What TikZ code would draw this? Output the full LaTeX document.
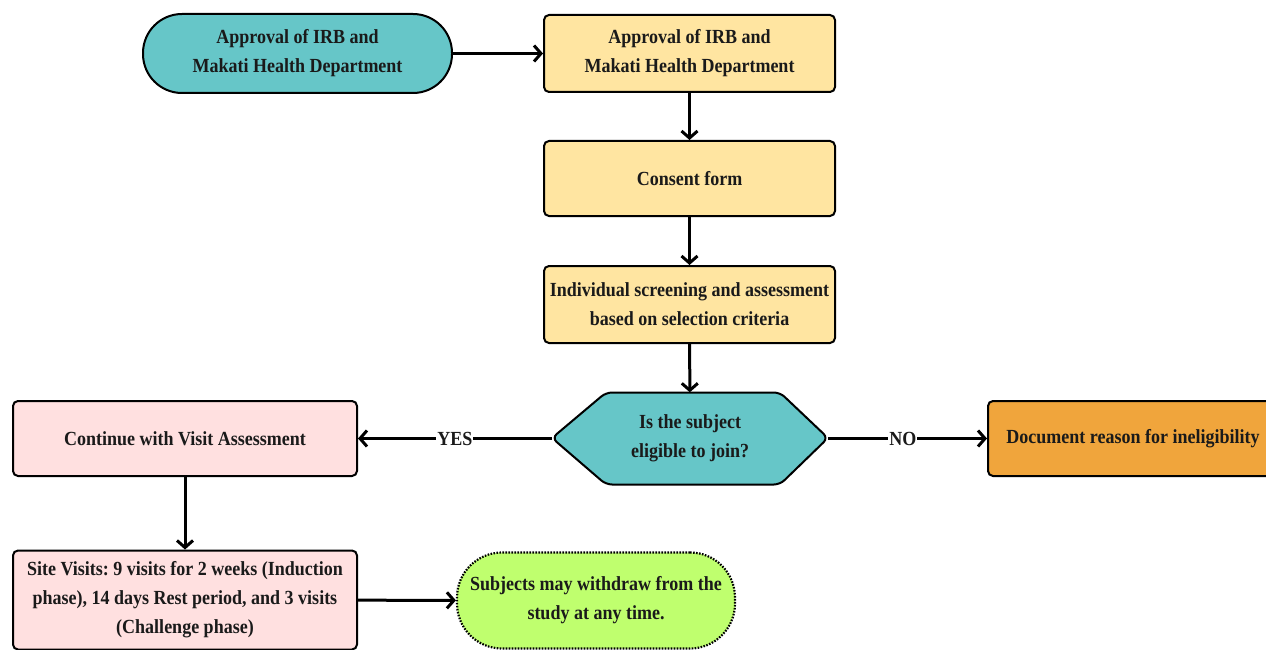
\documentclass[tikz,border=0pt]{standalone}
\usepackage{fontspec}
\setmainfont[FakeStretch=0.9]{Liberation Serif}
\usetikzlibrary{arrows.meta}
\definecolor{tealc}{HTML}{66C6C8}
\definecolor{yelc}{HTML}{FFE5A1}
\definecolor{pinkc}{HTML}{FFE0E0}
\definecolor{orac}{HTML}{F0A53C}
\definecolor{grnc}{HTML}{BFFF6E}
\definecolor{txtc}{HTML}{1A1A1A}
\frenchspacing
\begin{document}
\begin{tikzpicture}[x=1pt,y=-1pt,
  txt/.style={font=\bfseries\fontsize{20}{29}\selectfont, text=txtc, align=center},
  box/.style={txt, draw=black, line width=2pt, rounded corners=5pt, inner sep=0pt},
  stad/.style={txt, draw=black, line width=2pt, inner sep=0pt},
  arr/.style={line width=3pt, -{Straight Barb[length=7pt,width=16pt,line width=3pt]}},
  lab/.style={txt, fill=white, inner sep=1pt}]
\useasboundingbox (0,0) rectangle (1266,650);
% nodes
\node[stad, fill=tealc, rounded corners=39pt, minimum width=309pt, minimum height=79pt] (irb) at (297.5,53.5) {Approval of IRB and\\Makati Health Department};
\node[box, fill=yelc, minimum width=291pt, minimum height=77pt] (app) at (689.5,53.5) {Approval of IRB and\\Makati Health Department};
\node[box, fill=yelc, minimum width=291pt, minimum height=75pt] (cons) at (689.5,178.5) {Consent form};
\node[box, fill=yelc, minimum width=291pt, minimum height=77pt] (scr) at (689.5,304.5) {Individual screening and assessment\\based on selection criteria};
\draw[line width=2pt, fill=tealc, rounded corners=6pt] (552,438) -- (606,392.5) -- (780,392.5) -- (828,438) -- (780,484.5) -- (606,484.5) -- cycle;
\node[txt, minimum width=276pt, minimum height=92pt, inner sep=0pt] (dec) at (690,438.5) {Is the subject\\eligible to join?};
\node[box, fill=pinkc, minimum width=344pt, minimum height=75pt] (cont) at (185,438.5) {Continue with Visit Assessment};
\node[box, fill=pinkc, minimum width=344pt, minimum height=99pt] (site) at (185,600) {Site Visits: 9 visits for 2 weeks (Induction\\phase), 14 days Rest period, and 3 visits\\(Challenge phase)};
\node[stad, fill=grnc, dash pattern=on 1.6pt off 1.4pt, line width=2.2pt, rounded corners=45pt, minimum width=278pt, minimum height=96pt] (wd) at (596,600.5) {Subjects may withdraw from the\\study at any time.};
\node[box, fill=orac, minimum width=290pt, minimum height=75pt, anchor=west] (doc) at (987,438.5) {Document reason for ineligibility};
% connectors
\draw[arr] (irb) -- (app);
\draw[arr] (app) -- (cons);
\draw[arr] (cons) -- (scr);
\draw[arr] (scr) -- (dec);
\draw[arr] (dec.west) -- node[lab, pos=0.5] {YES} (cont);
\draw[arr] (dec.east) -- node[lab, pos=0.47] {NO} (doc);
\draw[arr] (cont) -- (site);
\draw[arr] (site) -- (wd);
\end{tikzpicture}
\end{document}
